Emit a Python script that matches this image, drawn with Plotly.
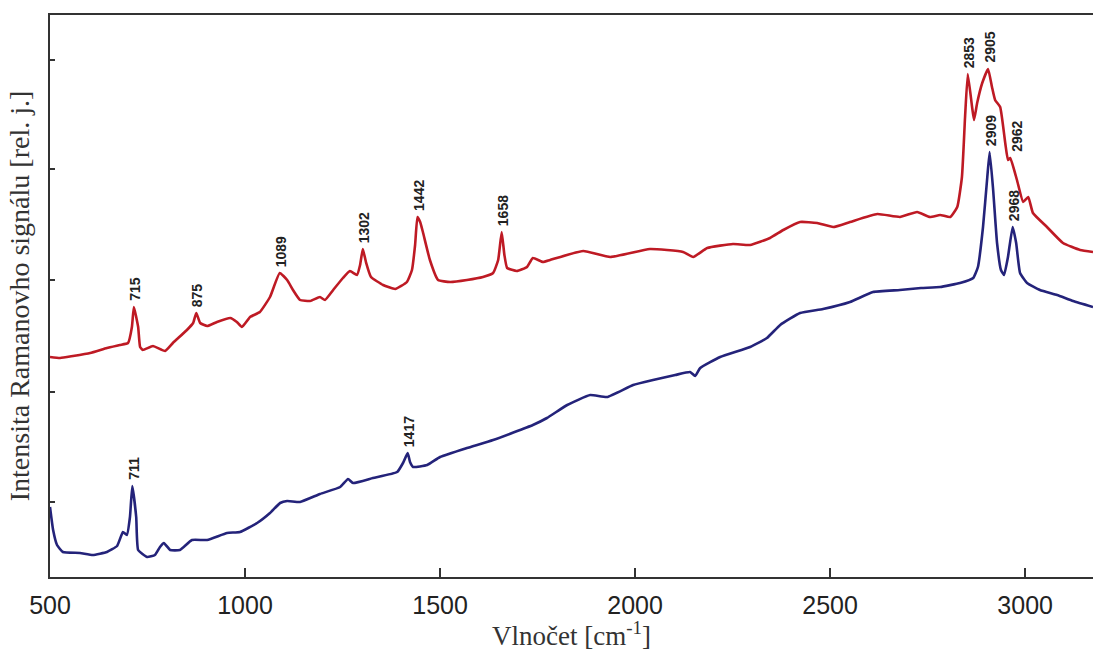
import plotly.graph_objects as go

# Raman spectra: wavenumber [cm-1] vs. relative intensity
red_wn = [500, 526, 559, 603, 646, 679, 700, 710, 715, 726, 731, 738, 764, 795, 815, 851, 867,
          875, 885, 903, 928, 962, 979, 992, 1013, 1038, 1064, 1089, 1108, 1123, 1141, 1167,
          1192, 1205, 1226, 1251, 1269, 1287, 1295, 1302, 1310, 1323, 1354, 1385, 1415, 1428,
          1436, 1442, 1449, 1456, 1474, 1495, 1526, 1569, 1610, 1636, 1649, 1658, 1665, 1672,
          1697, 1723, 1738, 1764, 1782, 1867, 1936, 2038, 2123, 2149, 2185, 2251, 2295, 2346,
          2380, 2423, 2467, 2508, 2551, 2621, 2679, 2723, 2756, 2782, 2808, 2826, 2838, 2846,
          2853, 2864, 2869, 2877, 2890, 2905, 2915, 2923, 2936, 2949, 2956, 2962, 2979, 2995,
          3008, 3020, 3056, 3097, 3141, 3174]
red_int = [220, 219, 221, 224, 229, 232, 234, 250, 270, 250, 230, 227, 231, 226, 234, 247, 254,
           264, 254, 251, 255, 259, 255, 250, 260, 265, 280, 304, 297, 287, 277, 276,
           280, 277, 287, 299, 306, 302, 312, 328, 315, 300, 292, 288, 295, 307,
           332, 360, 355, 345, 317, 297, 295, 297, 300, 304, 317, 345, 322, 309,
           306, 310, 319, 315, 317, 326, 320, 328, 325, 320, 329, 333, 332, 339,
           347, 355, 354, 350, 355, 363, 360, 365, 360, 362, 360, 370, 400, 460,
           503, 470, 457, 474, 494, 508, 490, 477, 470, 434, 417, 419, 397, 375,
           380, 364, 350, 334, 327, 325]

blue_wn = [500, 508, 518, 533, 577, 610, 646, 672, 687, 697, 705, 711, 721, 726, 749, 769, 782,
           792, 808, 833, 864, 903, 954, 987, 1031, 1064, 1090, 1108, 1141, 1192, 1244, 1264,
           1277, 1328, 1390, 1405, 1417, 1423, 1431, 1467, 1500, 1569, 1636, 1738, 1774, 1826,
           1885, 1928, 1995, 2046, 2103, 2141, 2154, 2167, 2218, 2295, 2338, 2372, 2423, 2482,
           2551, 2610, 2679, 2733, 2782, 2833, 2867, 2879, 2892, 2903, 2909, 2918, 2928, 2938,
           2946, 2956, 2968, 2977, 2987, 3005, 3038, 3082, 3123, 3174]
blue_int = [70, 47, 32, 25, 24, 22, 25, 31, 45, 42, 60, 91, 60, 27, 20, 22, 30,
            34, 27, 27, 37, 37, 44, 45, 54, 64, 74, 76, 75, 83, 90, 98,
            94, 99, 105, 114, 124, 115, 110, 112, 120, 129, 137, 152, 159, 172,
            182, 180, 192, 197, 202, 205, 201, 209, 220, 230, 239, 252, 264, 268,
            275, 285, 287, 289, 290, 294, 299, 310, 350, 400, 425, 387, 334, 307,
            302, 320, 350, 334, 304, 294, 287, 282, 276, 270]

red_peaks = [715, 875, 1089, 1302, 1442, 1658, 2853, 2905, 2962]
blue_peaks = [711, 1417, 2909, 2968]

RED = "#BE1A24"
BLUE = "#24237A"

fig = go.Figure()
fig.add_trace(go.Scatter(x=red_wn, y=red_int, mode="lines",
                         line=dict(color=RED, width=2.6, shape="spline", smoothing=0.4),
                         showlegend=False))
fig.add_trace(go.Scatter(x=blue_wn, y=blue_int, mode="lines",
                         line=dict(color=BLUE, width=2.6, shape="spline", smoothing=0.4),
                         showlegend=False))


def peak_labels(wn, inten, peaks):
    out = []
    for p in peaks:
        i = wn.index(p)
        out.append(dict(x=p, y=inten[i], text=f"<b>{p}</b>", showarrow=False,
                        textangle=-90, xanchor="center", yanchor="bottom",
                        yshift=4, xshift=6 if p == 2962 else 1,
                        font=dict(family="Liberation Sans, Arial", size=14, color="#222")))
    return out


fig.update_layout(
    width=1093, height=651,
    margin=dict(l=50, r=0, t=15, b=74),
    paper_bgcolor="white", plot_bgcolor="white",
    annotations=peak_labels(red_wn, red_int, red_peaks) + peak_labels(blue_wn, blue_int, blue_peaks),
    xaxis=dict(
        range=[500, 3174], showgrid=False, zeroline=False,
        showline=True, linecolor="#333", linewidth=2, mirror=True,
        tickvals=[500, 1000, 1500, 2000, 2500, 3000], ticks="inside", ticklen=9,
        tickwidth=2, tickcolor="#333", ticklabelstandoff=5,
        tickfont=dict(family="Liberation Sans, Arial", size=25, color="#222"),
        title=dict(text="Vlnočet [cm<sup>-1</sup>]", standoff=5,
                   font=dict(family="Liberation Serif, Times New Roman", size=27, color="#333")),
    ),
    yaxis=dict(
        range=[0, 562], showgrid=False, zeroline=False,
        showline=True, linecolor="#333", linewidth=2,
        tickvals=[75, 185, 297, 408, 517], ticks="inside", ticklen=5,
        tickwidth=1.5, tickcolor="#333", showticklabels=False,
        title=dict(text="Intensita Ramanovho signálu [rel. j.]", standoff=10,
                   font=dict(family="Liberation Serif, Times New Roman", size=28, color="#333")),
    ),
)

fig.write_html("out.html")
